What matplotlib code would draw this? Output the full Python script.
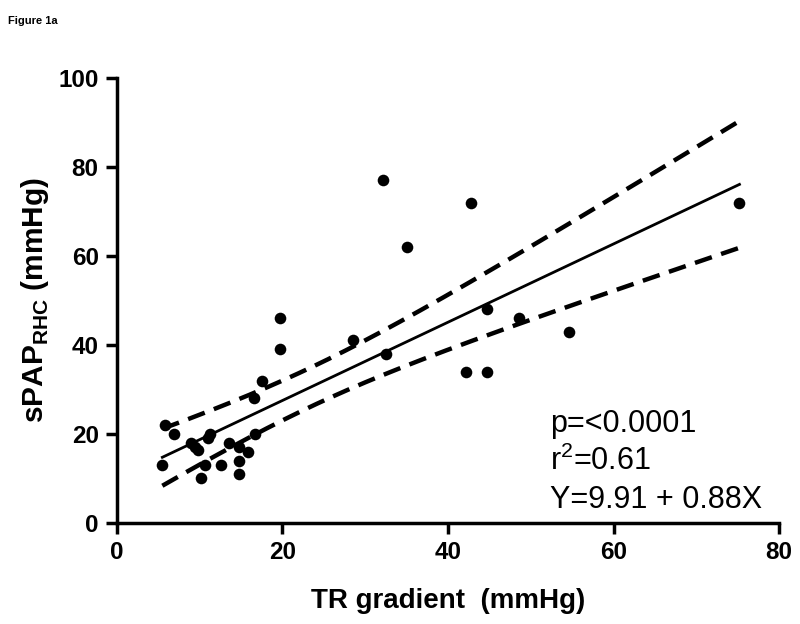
import numpy as np
import matplotlib
matplotlib.use("Agg")
import matplotlib.pyplot as plt

plt.rcParams["font.family"] = ["Liberation Sans", "DejaVu Sans"]
plt.rcParams["mathtext.fontset"] = "custom"
plt.rcParams["mathtext.rm"] = "Liberation Sans"
plt.rcParams["mathtext.bf"] = "Liberation Sans:bold"

# TR gradient (mmHg) vs sPAP by right heart catheterisation (mmHg)
tr_gradient = [5.5, 5.8, 6.9, 9.0, 9.4, 9.8, 10.2, 10.6, 11.0, 11.2,
               12.6, 13.6, 14.7, 14.7, 14.8, 15.9, 16.7, 16.6, 17.5, 19.7,
               19.7, 28.5, 32.5, 32.1, 35.1, 42.2, 42.8, 44.7, 44.7, 48.6,
               54.6, 75.2]
spap_rhc = [13, 22, 20, 18, 17, 16.5, 10, 13, 19, 20,
            13, 18, 17, 11, 14, 16, 20, 28, 32, 39,
            46, 41, 38, 77, 62, 34, 72, 48, 34, 46,
            43, 72]

intercept = 9.91
slope = 0.88
stats_text = ["p=<0.0001", r"r$^2$=0.61", "Y=9.91 + 0.88X"]

x = np.array(tr_gradient)
y = np.array(spap_rhc)

# fitted line and 95% confidence band of the mean
xf = np.linspace(x.min(), x.max(), 200)
yf = intercept + slope * xf
n = len(x)
resid = y - (intercept + slope * x)
s = np.sqrt((resid ** 2).sum() / (n - 2))
sxx = ((x - x.mean()) ** 2).sum()
t = 2.042
half = t * s * np.sqrt(1.0 / n + (xf - x.mean()) ** 2 / sxx)

fig = plt.figure(figsize=(8, 6.24), dpi=100)
ax = fig.add_axes([0.146, 0.162, 0.828, 0.713])

ax.scatter(x, y, s=70, color="black", zorder=3, linewidths=0)
ax.plot(xf, yf, color="black", linewidth=2)
ax.plot(xf, yf + half, color="black", linewidth=3.2, dashes=(4, 2.2))
ax.plot(xf, yf - half, color="black", linewidth=3.2, dashes=(4, 2.2))

ax.set_xlim(0, 80)
ax.set_ylim(0, 100)
ax.set_xticks([0, 20, 40, 60, 80])
ax.set_yticks([0, 20, 40, 60, 80, 100])
for side in ["top", "right"]:
    ax.spines[side].set_visible(False)
for side in ["left", "bottom"]:
    ax.spines[side].set_linewidth(2.5)
ax.tick_params(width=2.5, length=8, labelsize=17.5, pad=5)
for lab in ax.get_xticklabels() + ax.get_yticklabels():
    lab.set_fontweight("bold")

ax.set_xlabel("TR gradient  (mmHg)", fontsize=20, fontweight="bold", labelpad=17)
ax.set_ylabel(r"sPAP$_{\mathbf{RHC}}$ (mmHg)", fontsize=21.5, fontweight="bold", labelpad=5)

text_y = [20.4, 11.9, 3.4]
for txt, ty in zip(stats_text, text_y):
    ax.text(52.3, ty, txt, fontsize=22, va="baseline", ha="left")

fig.text(0.01, 0.975, "Figure 1a", fontsize=8, fontweight="bold", va="top")

fig.savefig("out.png", dpi=100)
